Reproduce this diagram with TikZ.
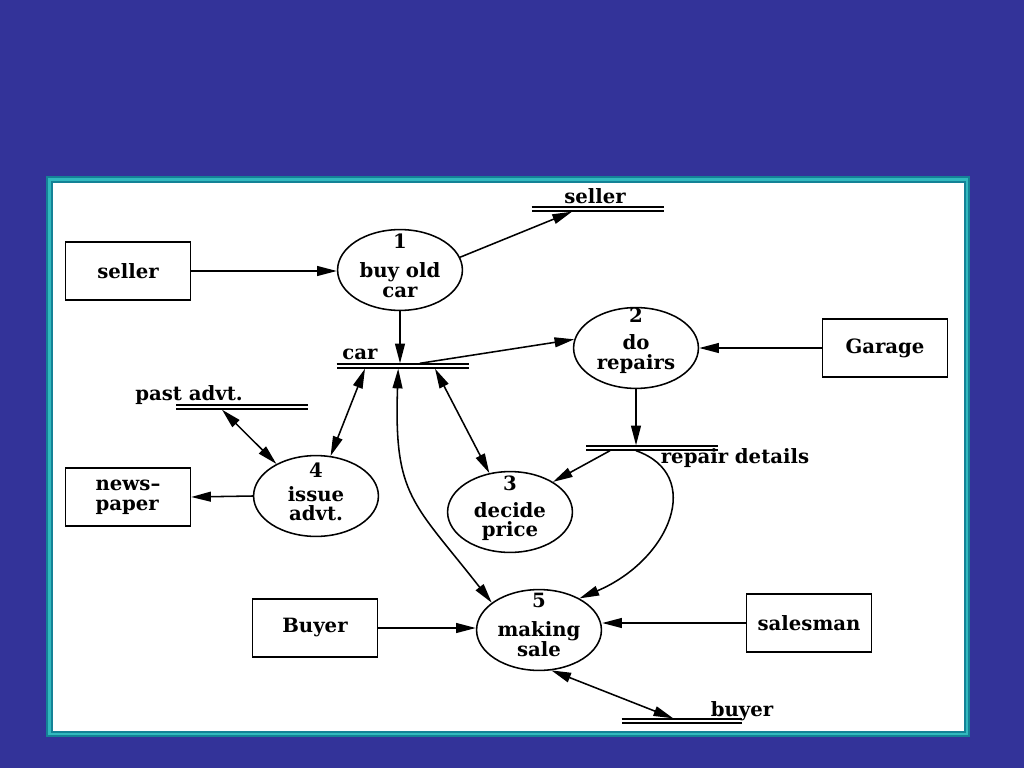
\documentclass[tikz,border=0pt]{standalone}
\usepackage{fontspec}
\setmainfont{DejaVu Serif}
\usetikzlibrary{shapes.geometric,arrows.meta,positioning,calc}
\definecolor{slideblue}{RGB}{51,51,153}
\definecolor{frameteal}{RGB}{20,130,150}
\definecolor{framelight}{RGB}{50,185,190}

\begin{document}
\begin{tikzpicture}[x=0.025cm, y=-0.025cm,
  entity/.style={rectangle, draw, line width=1.1pt, minimum width=3.12cm,
                 minimum height=1.45cm, align=center,
                 font=\fontsize{14}{14}\selectfont\bfseries},
  process/.style={ellipse, draw, line width=1.1pt, minimum width=3.12cm,
                  minimum height=2.02cm, inner sep=0pt},
  procnum/.style={font=\fontsize{14}{14}\selectfont\bfseries, inner sep=0pt},
  procname/.style={font=\fontsize{14}{14}\selectfont\bfseries, align=center,
                   inner sep=0pt},
  store/.style={rectangle, minimum height=0.12cm, inner sep=0pt},
  storeline/.style={draw, line width=1pt, double, double distance=2pt},
  storelabel/.style={font=\fontsize{14}{14}\selectfont\bfseries, inner sep=0pt},
  flow/.style={draw, line width=1.1pt, -{Triangle[length=14pt, width=7pt]}},
  dflow/.style={draw, line width=1.1pt,
                {Triangle[length=14pt, width=7pt]}-{Triangle[length=14pt, width=7pt]}},
]
  % ===== Slide background and frame =====
  \useasboundingbox (0,0) rectangle (1024,768);
  \fill[slideblue] (0,0) rectangle (1024,768);
  \fill[frameteal] (46,176) rectangle (970,737);
  \fill[framelight] (48,178) rectangle (968,735);
  \fill[frameteal] (51,181) rectangle (966,733);
  \fill[white] (53,183) rectangle (964,731);

  % ===== External entities =====
  \node[entity] (seller) at (128,271) {seller};
  \node[entity, align=left] (newspaper) at (128,497) {news--\\paper};
  \node[entity] (garage) at (885,348) {Garage};
  \node[entity] (buyer) at (315,628) {Buyer};
  \node[entity] (salesman) at (809,623) {salesman};

  % ===== Processes =====
  \node[process] (p1) at (400,270) {};
  \node[procnum] (n1) at ([yshift=-0.3cm]p1.north) {1};
  \node[procname] (t1) at ([yshift=-0.25cm]p1.center) {buy old\\car};

  \node[process] (p2) at (636,348) {};
  \node[procnum] (n2) at ([yshift=-0.2cm]p2.north) {2};
  \node[procname] (t2) at ([yshift=-0.16cm]p2.center) {do\\repairs};

  \node[process] (p3) at (510,512) {};
  \node[procnum] (n3) at ([yshift=-0.32cm]p3.north) {3};
  \node[procname] (t3) at ([yshift=-0.24cm]p3.center) {decide\\price};

  \node[process] (p4) at (316,496) {};
  \node[procnum] (n4) at ([yshift=-0.38cm]p4.north) {4};
  \node[procname] (t4) at ([yshift=-0.19cm]p4.center) {issue\\advt.};

  \node[process] (p5) at (539,630) {};
  \node[procnum] (n5) at ([yshift=-0.3cm]p5.north) {5};
  \node[procname] (t5) at ([yshift=-0.23cm]p5.center) {making\\sale};

  % ===== Data stores =====
  \node[store, minimum width=3.3cm] (sellerstore) at (598,209) {};
  \node[store, minimum width=3.3cm] (carstore) at (403,366) {};
  \node[store, minimum width=3.28cm] (paststore) at (242,407) {};
  \node[store, minimum width=3.28cm] (repairstore) at (652,448) {};
  \node[store, minimum width=3.0cm] (buyerstore) at (682,721) {};
  \foreach \s in {sellerstore,carstore,paststore,repairstore,buyerstore}
    \draw[storeline] (\s.west) -- (\s.east);

  \node[storelabel] (sellerlbl) at (595,196) {seller};
  \node[storelabel] (carlbl) at (360,354) {car};
  \node[storelabel] (pastlbl) at (189,395) {past advt.};
  \node[storelabel] (repairlbl) at (735,458) {repair details};
  \node[storelabel] (buyerlbl) at (742,711) {buyer};

  % ===== Flows =====
  \draw[flow] (seller.east) -- (seller.east -| p1.west);
  \draw[flow] (p1.12) -- ([xshift=-0.65cm]sellerstore.south);
  \draw[flow] (p1.south) -- (p1.south |- carstore.north);
  \draw[flow] ([xshift=0.42cm]carstore.north) -- (p2.172);
  \draw[flow] (garage.west) -- (p2.east);
  \draw[flow] (p2.south) -- (p2.south |- repairstore.north);
  \draw[flow] ([xshift=-1.05cm]repairstore.south) -- (p3.35);
  \draw[flow] ([xshift=-0.4cm]repairstore.south) .. controls (705,475) and (670,560) .. (p5.38);
  \draw[dflow] ([xshift=0.8cm]carstore.south) -- (p3.118);
  \draw[dflow] ([xshift=-0.95cm]carstore.south) -- (p4.70);
  \draw[dflow] ([xshift=-0.5cm]paststore.south) -- (p4.141);
  \draw[flow] (p4.west) -- (newspaper.east);
  \draw[dflow] ([xshift=-0.12cm]carstore.south) to[out=-92, in=128, looseness=1.3] (p5.150);
  \draw[flow] (buyer.east) -- (buyer.east -| p5.west);
  \draw[flow] (salesman.west) -- (p5.east |- salesman.west);
  \draw[dflow] (p5.-73) -- ([xshift=-0.22cm]buyerstore.north);

\end{tikzpicture}
\end{document}
